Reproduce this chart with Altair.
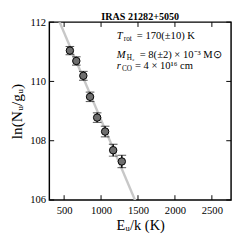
import altair as alt
import pandas as pd

# Data
energy = [578, 665, 760, 851, 947, 1055, 1164, 1281]
ln_ng = [111.04, 110.69, 110.19, 109.48, 108.78, 108.31, 107.68, 107.30]
err = [0.14, 0.14, 0.15, 0.16, 0.16, 0.18, 0.20, 0.21]
fit_x = [300, 2770]
fit_y = [112.82, 98.29]  # T_rot = 170 K slope
x_ticks = [500, 1000, 1500, 2000, 2500]
y_ticks = [106, 108, 110, 112]
title_text = ["IRAS 21282+5050"]

W, H = 189, 185
FONT = "Liberation Serif"
YT = "ln(Nᵤ/gᵤ)"
XT = "Eᵤ/k (K)"

df = pd.DataFrame({"E": energy, "L": ln_ng, "lo": [l - e for l, e in zip(ln_ng, err)],
                   "hi": [l + e for l, e in zip(ln_ng, err)]})
fit = pd.DataFrame({"E": fit_x, "L": fit_y})

xs = alt.Scale(domain=[300, 2760], nice=False)
ys = alt.Scale(domain=[106, 112], nice=False)

xax = alt.Axis(values=x_ticks, tickSize=0, domain=False, grid=False, labelFont=FONT,
               labelFontSize=11, labelColor="black", labelPadding=5, format="d",
               title=XT, titleFont=FONT, titleFontSize=15, titleFontWeight="normal",
               titleColor="black", titlePadding=3)
yax = alt.Axis(values=y_ticks, tickSize=0, domain=False, grid=False, labelFont=FONT,
               labelFontSize=11, labelColor="black", labelPadding=4, format="d",
               title=YT, titleFont=FONT, titleFontSize=16, titleFontWeight="normal",
               titleColor="black", titlePadding=5)

line = alt.Chart(fit).mark_line(color="#c8c8c8", strokeWidth=2.5, clip=True).encode(
    x=alt.X("E:Q", scale=xs, axis=xax, title=XT),
    y=alt.Y("L:Q", scale=ys, axis=yax, title=YT))

bars = alt.Chart(df).mark_errorbar(ticks={"size": 9, "color": "black", "strokeWidth": 1.5},
                                    rule={"color": "black", "strokeWidth": 1.5}).encode(
    x=alt.X("E:Q", scale=xs, title=XT), y=alt.Y("lo:Q", scale=ys, title=YT), y2="hi:Q")

pts = alt.Chart(df).mark_point(filled=True, fill="#6e6e6e", stroke="black", strokeWidth=1,
                               size=60, opacity=1, shape="circle").encode(
    x=alt.X("E:Q", scale=xs, title=XT), y=alt.Y("L:Q", scale=ys, title=YT))

tx = pd.DataFrame({"v": x_ticks})
ty = pd.DataFrame({"v": y_ticks})
tick_b = alt.Chart(tx).mark_rule(color="black", strokeWidth=1).encode(
    x=alt.X("v:Q", scale=xs), y=alt.value(H), y2=alt.value(H - 5))
tick_t = alt.Chart(tx).mark_rule(color="black", strokeWidth=1).encode(
    x=alt.X("v:Q", scale=xs), y=alt.value(0), y2=alt.value(5))
tick_l = alt.Chart(ty).mark_rule(color="black", strokeWidth=1).encode(
    y=alt.Y("v:Q", scale=ys), x=alt.value(0), x2=alt.value(5))
tick_r = alt.Chart(ty).mark_rule(color="black", strokeWidth=1).encode(
    y=alt.Y("v:Q", scale=ys), x=alt.value(W), x2=alt.value(W - 5))

# annotation pieces
ann_main = pd.DataFrame({
    "t": ["T", "M", "r"],
    "x": [70, 70, 70], "y": [15, 34, 46]})
ann_sub = pd.DataFrame({
    "t": ["rot", "H₂", "CO"],
    "x": [77.5, 80.5, 75.5], "y": [18, 37, 49]})
ann_rest = pd.DataFrame({
    "t": ["= 170(±10) K", "= 8(±2) × 10⁻³ M⊙", "= 4 × 10¹⁶ cm"],
    "x": [91, 94, 89], "y": [15, 34, 46]})

t1 = alt.Chart(ann_main).mark_text(font=FONT, fontSize=11, fontStyle="italic", align="left",
                                   baseline="middle", color="black").encode(
    x=alt.X("x:Q", scale=None), y=alt.Y("y:Q", scale=None), text="t:N")
t2 = alt.Chart(ann_sub).mark_text(font=FONT, fontSize=7.5, align="left",
                                  baseline="middle", color="black").encode(
    x=alt.X("x:Q", scale=None), y=alt.Y("y:Q", scale=None), text="t:N")
t3 = alt.Chart(ann_rest).mark_text(font=FONT, fontSize=11, align="left",
                                   baseline="middle", color="black").encode(
    x=alt.X("x:Q", scale=None), y=alt.Y("y:Q", scale=None), text="t:N")

ttl = alt.Chart(pd.DataFrame({"t": title_text})).mark_text(
    font=FONT, fontSize=10.5, fontWeight="bold", align="center", baseline="middle",
    color="black").encode(x=alt.value(W / 2), y=alt.value(-5), text="t:N")

chart = alt.layer(line, bars, pts, tick_b, tick_t, tick_l, tick_r, t1, t2, t3, ttl).properties(
    width=W, height=H,
    autosize=alt.AutoSizeParams(type="none"),
    padding={"left": 43, "top": 10, "right": 2, "bottom": 40},
).configure_view(stroke="black", strokeWidth=1.5)

chart.save("out.html", embed_options={"renderer": "svg", "actions": False})
